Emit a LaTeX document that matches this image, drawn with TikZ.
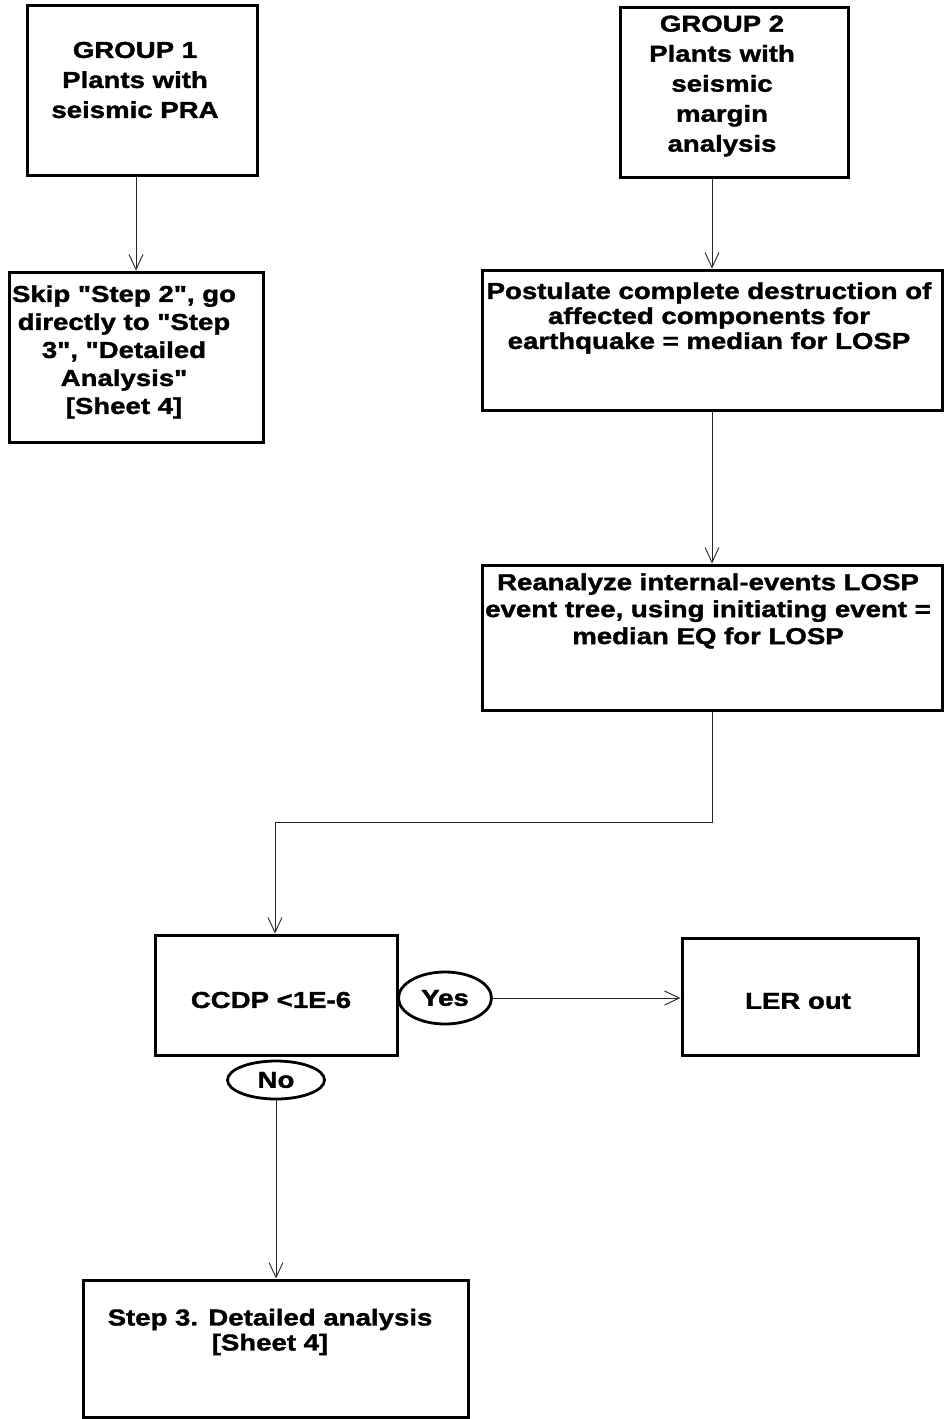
\documentclass[tikz,border=0pt]{standalone}
\usepackage{fontspec}
\setmainfont{Liberation Sans}[Ligatures=TeXOff,FakeStretch=1.2,FakeBold=1.6]
\usetikzlibrary{arrows.meta,shapes.geometric}
\begin{document}
\begin{tikzpicture}[x=1pt,y=-1pt,
  box/.style={draw=black,line width=3pt,rectangle,inner sep=0pt},
  txt/.style={align=center,font=\bfseries\fontsize{23}{28}\selectfont,inner sep=0pt},
  oval/.style={draw=black,line width=2.8pt,ellipse,inner sep=0pt,font=\bfseries\fontsize{23}{28}\selectfont},
  conn/.style={line width=0.9pt,draw=black!85,-{Straight Barb[length=15pt,width=14pt,line width=0.9pt]}}]
\useasboundingbox (0,0) rectangle (944,1419);
% boxes
\node[box,minimum width=230pt,minimum height=170pt] (g1) at (142,90) {};
\node[box,minimum width=228pt,minimum height=170pt] (g2) at (734,92) {};
\node[box,minimum width=254pt,minimum height=170pt] (skip) at (136,357) {};
\node[box,minimum width=460pt,minimum height=140pt] (post) at (712,340) {};
\node[box,minimum width=460pt,minimum height=145pt] (rean) at (712,637.5) {};
\node[box,minimum width=242pt,minimum height=120pt] (ccdp) at (276,995) {};
\node[box,minimum width=236pt,minimum height=117pt] (ler) at (800,996.5) {};
\node[box,minimum width=385pt,minimum height=137pt] (step3) at (275.5,1348.5) {};
% texts
\node[txt,font=\bfseries\fontsize{23}{30}\selectfont] (g1t) at (135,80) {GROUP 1\\Plants with\\seismic PRA};
\node[txt,font=\bfseries\fontsize{23}{30}\selectfont] (g2t) at (722,86) {GROUP 2\\Plants with\\seismic\\margin\\analysis};
\node[txt] (skipt) at (124,352) {Skip "Step 2", go\\directly to "Step\\3", "Detailed\\Analysis"\\{}[Sheet 4]};
\node[txt,font=\bfseries\fontsize{23}{25}\selectfont] (postt) at (709,318) {Postulate complete destruction of\\affected components for\\earthquake = median for LOSP};
\node[txt,font=\bfseries\fontsize{23}{27}\selectfont] (reant) at (708,611) {Reanalyze internal-events LOSP\\event tree, using initiating event =\\median EQ for LOSP};
\node[txt] (ccdpt) at (271,1000) {CCDP <1E-6};
\node[txt] (lert) at (798,1001) {LER out};
\node[txt,font=\bfseries\fontsize{23}{25}\selectfont] (step3t) at (270,1332) {Step 3. Detailed analysis\\{}[Sheet 4]};
% ovals
\node[oval,minimum width=93pt,minimum height=52pt] (yes) at (445,998) {Yes};
\node[oval,minimum width=97pt,minimum height=38pt] (no) at (276,1080) {No};
% connectors
\coordinate (bend1) at (712,822);
\coordinate (bend2) at (275,822);
\draw[conn] (g1.south -| skip.north) -- (skip.north);
\draw[conn] (g2.south -| post.north) -- (post.north);
\draw[conn] (post.south) -- (rean.north);
\draw[conn] (rean.south) -- (bend1) -- (bend2) -- (bend2 |- ccdp.north);
\draw[conn] (yes.east) -- (ler.west |- yes.east);
\draw[conn] (no.south) -- (no.south |- step3.north);
\end{tikzpicture}
\end{document}
